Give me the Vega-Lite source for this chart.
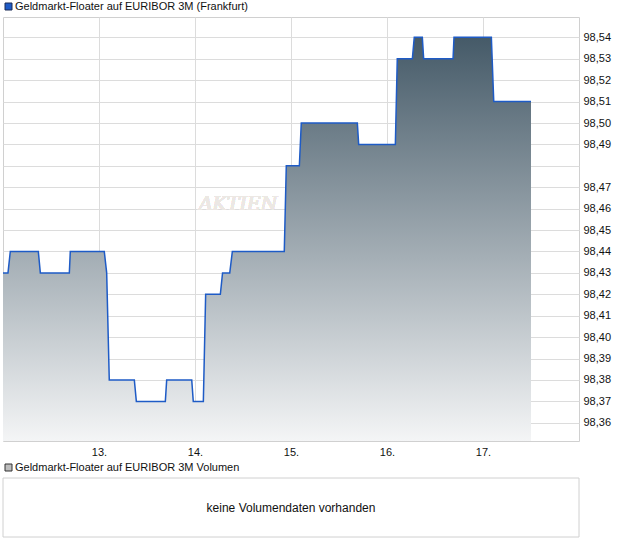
{
  "$schema": "https://vega.github.io/schema/vega-lite/v6.json",
  "background": "white",
  "padding": {"left": -1, "top": 0, "right": 0, "bottom": 0},
  "autosize": {"type": "pad"},
  "bounds": "flush",
  "spacing": 37,
  "config": {
    "font": "Liberation Sans",
    "view": {"stroke": "#d0d0d0", "strokeWidth": 1},
    "axis": {"labelFont": "Liberation Sans", "labelFontSize": 11, "labelColor": "#111111", "gridColor": "#dcdcdc", "gridWidth": 1, "domain": false, "ticks": false, "title": null},
    "legend": {"labelFont": "Liberation Sans", "labelFontSize": 11, "labelColor": "#111111", "padding": 0, "labelOffset": 1, "labelLimit": 0}
  },
  "resolve": {"scale": {"color": "independent"}, "legend": {"color": "independent"}},
  "vconcat": [
    {
      "width": 576,
      "height": 424,
      "data": {"values": [
        {"day": 12.0, "kurs": 98.43},
        {"day": 12.052, "kurs": 98.43},
        {"day": 12.076, "kurs": 98.44},
        {"day": 12.368, "kurs": 98.44},
        {"day": 12.389, "kurs": 98.43},
        {"day": 12.691, "kurs": 98.43},
        {"day": 12.701, "kurs": 98.44},
        {"day": 13.055, "kurs": 98.44},
        {"day": 13.08, "kurs": 98.43},
        {"day": 13.107, "kurs": 98.38},
        {"day": 13.368, "kurs": 98.38},
        {"day": 13.389, "kurs": 98.37},
        {"day": 13.691, "kurs": 98.37},
        {"day": 13.705, "kurs": 98.38},
        {"day": 13.966, "kurs": 98.38},
        {"day": 13.982, "kurs": 98.37},
        {"day": 14.087, "kurs": 98.37},
        {"day": 14.111, "kurs": 98.42},
        {"day": 14.264, "kurs": 98.42},
        {"day": 14.287, "kurs": 98.43},
        {"day": 14.362, "kurs": 98.43},
        {"day": 14.389, "kurs": 98.44},
        {"day": 14.93, "kurs": 98.44},
        {"day": 14.951, "kurs": 98.48},
        {"day": 15.087, "kurs": 98.48},
        {"day": 15.107, "kurs": 98.5},
        {"day": 15.691, "kurs": 98.5},
        {"day": 15.705, "kurs": 98.49},
        {"day": 16.087, "kurs": 98.49},
        {"day": 16.107, "kurs": 98.53},
        {"day": 16.264, "kurs": 98.53},
        {"day": 16.284, "kurs": 98.54},
        {"day": 16.368, "kurs": 98.54},
        {"day": 16.382, "kurs": 98.53},
        {"day": 16.688, "kurs": 98.53},
        {"day": 16.698, "kurs": 98.54},
        {"day": 17.087, "kurs": 98.54},
        {"day": 17.112, "kurs": 98.51},
        {"day": 17.5, "kurs": 98.51}
      ]},
      "encoding": {
        "x": {"field": "day", "type": "quantitative",
          "scale": {"domain": [12, 18], "nice": false, "zero": false},
          "axis": {"values": [13, 14, 15, 16, 17], "labelExpr": "datum.value + '.'", "labelPadding": 5, "grid": true}},
        "y": {"field": "kurs", "type": "quantitative",
          "scale": {"domain": [98.3515, 98.5495], "nice": false, "zero": false},
          "axis": {"orient": "right", "grid": true, "labelPadding": 4, "labelAlign": "left",
            "values": [98.36, 98.37, 98.38, 98.39, 98.4, 98.41, 98.42, 98.43, 98.44, 98.45, 98.46, 98.47, 98.48, 98.49, 98.5, 98.51, 98.52, 98.53, 98.54],
            "labelExpr": "abs(datum.value - 98.48) < 0.001 ? '' : replace(format(datum.value, '.2f'), '.', ',')"}}
      },
      "layer": [
        {
          "mark": {"type": "text", "text": "AKTIEN", "font": "DejaVu Serif", "fontStyle": "italic", "fontSize": 19, "color": "#ece8e4", "align": "center", "baseline": "middle"},
          "encoding": {
            "x": {"datum": 14.45, "type": "quantitative"},
            "y": {"datum": 98.462, "type": "quantitative"}
          }
        },
        {
          "mark": {"type": "area", "interpolate": "linear", "opacity": 1, "fillOpacity": 1,
            "color": {"gradient": "linear", "x1": 0, "y1": 1, "x2": 0, "y2": 0,
              "stops": [{"offset": 0, "color": "#f4f5f6"}, {"offset": 1, "color": "#455a68"}]},
            "line": {"color": "#1e5bc6", "strokeWidth": 1.5, "opacity": 1}},
          "encoding": {
            "y2": {"datum": 98.3515}
          }
        },
        {
          "mark": {"type": "square", "opacity": 0, "size": 0},
          "encoding": {
            "x": null, "y": null,
            "color": {"datum": "Geldmarkt-Floater auf EURIBOR 3M (Frankfurt)", "type": "nominal",
              "scale": {"range": ["#1e5bc6"]},
              "legend": {"orient": "none", "legendX": 0, "legendY": -16, "title": null, "symbolType": "square", "symbolSize": 49, "symbolOpacity": 1,
                "symbolStrokeColor": "#1a2a55", "symbolStrokeWidth": 1,
                "encode": {"symbols": {"update": {"opacity": {"value": 1}, "size": {"value": 49}, "fill": {"value": "#1e5bc6"}, "fillOpacity": {"value": 1}, "stroke": {"value": "#1a2a55"}, "strokeWidth": {"value": 1}}}}}}
          }
        }
      ]
    },
    {
      "width": 576,
      "height": 59,
      "data": {"values": [{"msg": "keine Volumendaten vorhanden", "serie": "Geldmarkt-Floater auf EURIBOR 3M Volumen"}]},
      "layer": [
        {
          "mark": {"type": "rect", "fill": "white", "fillOpacity": 0, "stroke": "#d0d0d0", "strokeWidth": 1}
        },
        {
          "mark": {"type": "text", "fontSize": 12, "color": "#111111", "align": "center", "baseline": "middle", "font": "Liberation Sans"},
          "encoding": {"text": {"field": "msg"}}
        },
        {
          "mark": {"type": "square", "opacity": 0, "size": 0},
          "encoding": {
            "color": {"field": "serie", "type": "nominal",
              "scale": {"range": ["#bdbdbd"]},
              "legend": {"orient": "none", "legendX": 0, "legendY": -16, "title": null, "symbolType": "square", "symbolSize": 49, "symbolOpacity": 1,
                "symbolStrokeColor": "#333333", "symbolStrokeWidth": 1,
                "encode": {"symbols": {"update": {"opacity": {"value": 1}, "size": {"value": 49}, "fill": {"value": "#bdbdbd"}, "fillOpacity": {"value": 1}, "stroke": {"value": "#333333"}, "strokeWidth": {"value": 1}}}}}}
          }
        }
      ]
    }
  ]
}
